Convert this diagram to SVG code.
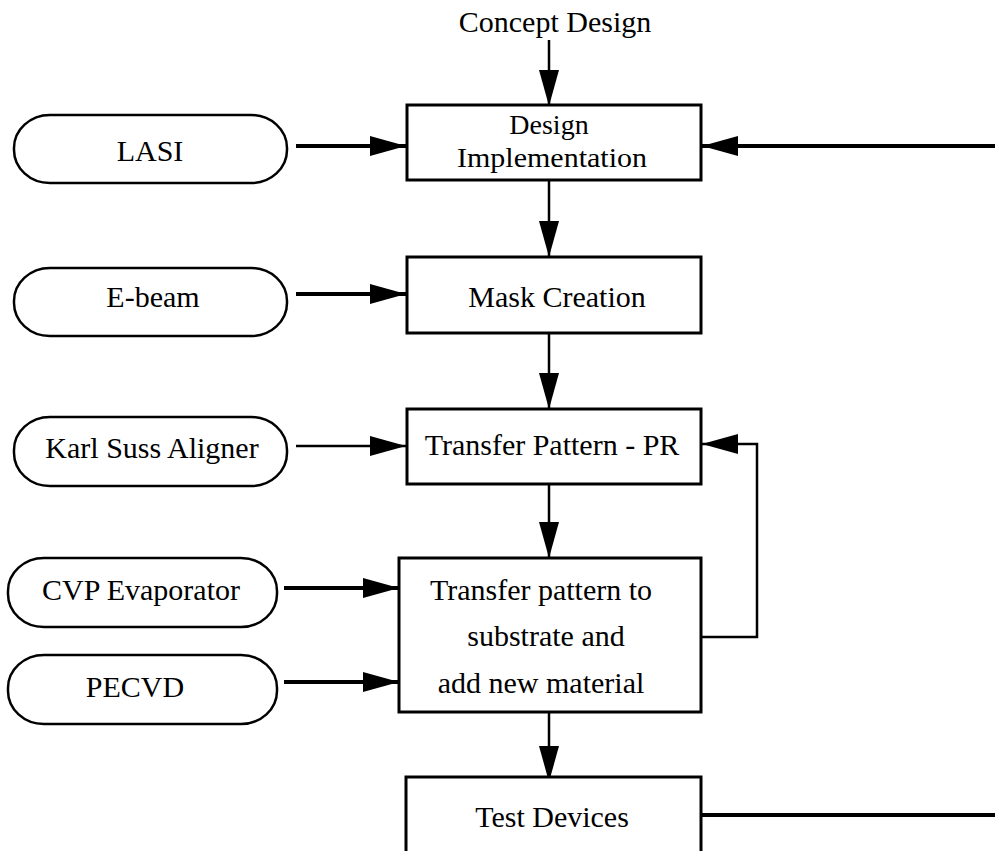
<svg xmlns="http://www.w3.org/2000/svg" width="995" height="851" viewBox="0 0 995 851">
<style>
  .box { fill: #fff; stroke: #000; stroke-width: 3; }
  .pill { fill: #fff; stroke: #000; stroke-width: 2.5; }
  .t { font-family: "Liberation Serif", "Times New Roman", serif; font-size: 30px; text-anchor: middle; fill: #000; }
  .s { font-size: 28px; }
  .c { fill: none; stroke: #000; stroke-width: 2.5; }
  .c4 { fill: none; stroke: #000; stroke-width: 4; }
</style>
<defs>
  <marker id="ah" viewBox="0 0 36 20" refX="36" refY="10" markerWidth="36" markerHeight="20" markerUnits="userSpaceOnUse" orient="auto">
    <path d="M0,0 L36,10 L0,20 z" fill="#000"/>
  </marker>
</defs>
<rect width="995" height="851" fill="#fff"/>

<g id="connectors">
  <line class="c" x1="549" y1="40" x2="549" y2="106" marker-end="url(#ah)"/>
  <line class="c" x1="549" y1="181" x2="549" y2="257" marker-end="url(#ah)"/>
  <line class="c" x1="549" y1="333" x2="549" y2="409" marker-end="url(#ah)"/>
  <line class="c" x1="549" y1="484" x2="549" y2="558" marker-end="url(#ah)"/>
  <line class="c" x1="549" y1="712" x2="549" y2="782" marker-end="url(#ah)"/>
  <line class="c4" x1="296" y1="146" x2="406" y2="146" marker-end="url(#ah)"/>
  <line class="c4" x1="296" y1="294" x2="406" y2="294" marker-end="url(#ah)"/>
  <line class="c" x1="296" y1="446" x2="406" y2="446" marker-end="url(#ah)"/>
  <line class="c4" x1="284" y1="588" x2="399" y2="588" marker-end="url(#ah)"/>
  <line class="c4" x1="284" y1="682" x2="399" y2="682" marker-end="url(#ah)"/>
  <line class="c4" x1="995" y1="146" x2="702" y2="146" marker-end="url(#ah)"/>
  <line class="c4" x1="701" y1="815" x2="995" y2="815"/>
  <polyline class="c" points="701,637 757,637 757,444 702,444" marker-end="url(#ah)"/>
</g>

<g id="concept">
  <text class="t" x="555" y="32">Concept Design</text>
</g>

<g id="design-impl">
  <rect class="box" x="407" y="105" width="294" height="75"/>
  <text class="t s" x="549" y="134">Design</text>
  <text class="t s" x="552" y="167" textLength="190" lengthAdjust="spacingAndGlyphs">Implementation</text>
</g>

<g id="mask">
  <rect class="box" x="407" y="257" width="294" height="76"/>
  <text class="t" x="557" y="307">Mask Creation</text>
</g>

<g id="transfer-pr">
  <rect class="box" x="407" y="409" width="294" height="75"/>
  <text class="t" x="552" y="455">Transfer Pattern - PR</text>
</g>

<g id="transfer-sub">
  <rect class="box" x="399" y="558" width="302" height="154"/>
  <text class="t" x="541" y="600">Transfer pattern to</text>
  <text class="t" x="546" y="646">substrate and</text>
  <text class="t" x="541" y="693">add new material</text>
</g>

<g id="test">
  <rect class="box" x="406" y="777" width="295" height="90"/>
  <text class="t" x="552" y="827">Test Devices</text>
</g>

<g id="lasi">
  <rect class="pill" x="14" y="115" width="273" height="68" rx="36" ry="33"/>
  <text class="t" x="150" y="161">LASI</text>
</g>

<g id="ebeam">
  <rect class="pill" x="14" y="268" width="273" height="68" rx="36" ry="33"/>
  <text class="t" x="153" y="307">E-beam</text>
</g>

<g id="karl">
  <rect class="pill" x="14" y="417" width="273" height="69" rx="36" ry="33"/>
  <text class="t" x="152" y="458">Karl Suss Aligner</text>
</g>

<g id="cvp">
  <rect class="pill" x="8" y="558" width="269" height="69" rx="36" ry="33"/>
  <text class="t" x="141" y="600">CVP Evaporator</text>
</g>

<g id="pecvd">
  <rect class="pill" x="8" y="655" width="269" height="69" rx="36" ry="33"/>
  <text class="t" x="135" y="697">PECVD</text>
</g>
</svg>
